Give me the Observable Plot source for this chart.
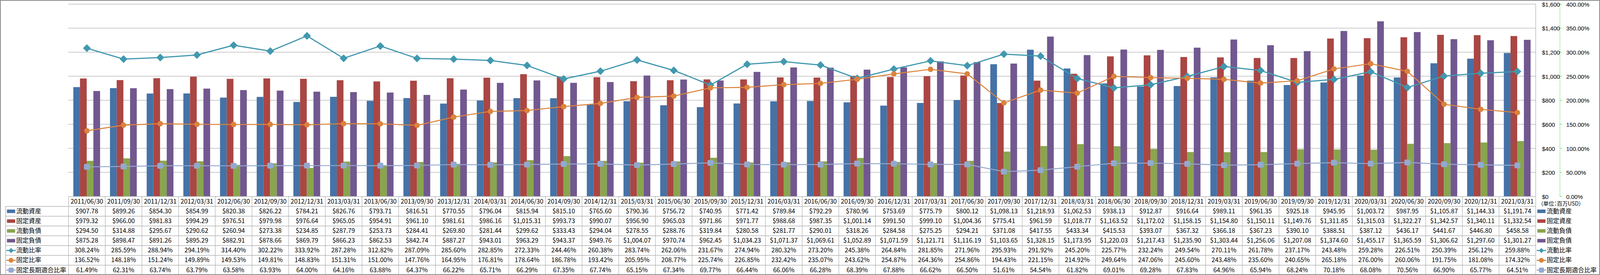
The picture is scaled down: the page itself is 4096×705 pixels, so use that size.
<!DOCTYPE html>
<html><head><meta charset="utf-8">
<script src="https://cdn.jsdelivr.net/npm/d3@7"></script>
<script src="https://cdn.jsdelivr.net/npm/@observablehq/plot@0.6"></script>
<style>
html,body{margin:0;padding:0;background:#fff;}
#wrap{position:relative;width:4096px;height:705px;overflow:hidden;background:#fff;}
#wrap svg{position:absolute;left:0;}
#frame{position:absolute;left:0;top:0;width:4096px;height:705px;box-sizing:border-box;border:2px solid #8a8a8a;pointer-events:none;}
</style></head>
<body><div id="wrap"><div id="frame"></div></div>
<script>
// ---------- data ----------
const dates = ["2011/06/30","2011/09/30","2011/12/31","2012/03/31","2012/06/30","2012/09/30","2012/12/31","2013/03/31","2013/06/30","2013/09/30","2013/12/31","2014/03/31","2014/06/30","2014/09/30","2014/12/31","2015/03/31","2015/06/30","2015/09/30","2015/12/31","2016/03/31","2016/06/30","2016/09/30","2016/12/31","2017/03/31","2017/06/30","2017/09/30","2017/12/31","2018/03/31","2018/06/30","2018/09/30","2018/12/31","2019/03/31","2019/06/30","2019/09/30","2019/12/31","2020/03/31","2020/06/30","2020/09/30","2020/12/31","2021/03/31"];
const currentAssets = [907.78,899.26,854.30,854.99,820.38,826.22,784.21,826.76,793.71,816.51,770.55,796.04,815.94,815.10,765.60,790.36,756.72,740.95,771.42,789.84,792.29,780.96,753.69,775.79,800.12,1098.13,1218.93,1062.53,938.13,912.87,916.64,989.11,961.35,925.18,945.95,1003.72,987.95,1105.87,1144.33,1191.74];
const fixedAssets = [979.32,966.00,981.83,994.29,976.51,979.98,976.64,965.05,954.91,961.10,981.61,986.16,1015.31,993.73,990.07,956.90,965.03,971.86,971.77,988.68,987.35,1001.14,991.50,999.10,1004.36,775.41,961.59,1018.77,1163.52,1172.02,1158.15,1154.80,1150.11,1149.76,1311.85,1315.03,1322.27,1342.57,1340.11,1332.54];
const currentLiabilities = [294.50,314.88,295.67,290.62,260.94,273.38,234.85,287.79,253.73,284.41,269.80,281.44,299.62,333.43,294.04,278.55,288.76,319.84,280.58,281.77,290.01,318.26,284.58,275.25,294.21,371.08,417.55,433.34,415.53,393.07,367.32,366.18,367.23,390.10,388.51,387.12,436.17,441.67,446.80,458.58];
const fixedLiabilities = [875.28,898.47,891.26,895.29,882.91,878.66,869.79,866.23,862.53,842.74,887.27,943.01,963.29,943.37,949.76,1004.07,970.74,962.45,1034.23,1071.37,1069.61,1052.89,1071.59,1121.71,1116.19,1103.65,1328.15,1173.95,1220.03,1217.43,1235.90,1303.44,1256.06,1207.08,1374.60,1455.17,1365.59,1306.62,1297.60,1301.27];
const currentRatio = [308.24,285.59,288.94,294.19,314.40,302.22,333.92,287.28,312.82,287.09,285.60,282.85,272.33,244.46,260.38,283.74,262.06,231.67,274.94,280.32,273.20,245.38,264.84,281.85,271.96,295.93,291.92,245.20,225.77,232.24,249.54,270.11,261.78,237.17,243.48,259.28,226.51,250.39,256.12,259.88];
const fixedRatio = [136.52,148.18,151.24,149.89,149.53,149.81,148.83,151.31,151.00,147.76,164.95,176.81,178.64,186.78,193.42,205.95,208.77,225.74,226.85,232.42,235.07,243.62,254.87,264.36,254.86,194.43,221.15,214.92,249.64,247.06,245.60,243.48,235.60,240.65,265.18,276.00,260.06,191.75,181.08,174.32];
const fixedLongTermRatio = [61.49,62.31,63.74,63.79,63.58,63.93,64.00,64.16,63.88,64.37,66.22,65.71,66.29,67.35,67.74,65.15,67.34,69.77,66.44,66.06,66.28,68.39,67.88,66.62,66.50,51.61,54.54,61.82,69.01,69.28,67.83,64.96,65.94,68.24,70.18,68.08,70.56,66.90,65.77,64.51];
const barNames = ["流動資産","固定資産","流動負債","固定負債"];
const lineNames = ["流動比率","固定比率","固定長期適合比率"];
const moneyTicks = [0,200,400,600,800,1000,1200,1400,1600];
const unitLabel = "（単位：百万USD）";

// ---------- styles ----------
const barColors = ["#4572A7","#AA4643","#89A54E","#71588F"];
const lineColors = ["#4198AF","#DB843D","#93A9CF"];
const FONT = "'Noto Sans CJK JP', 'Noto Sans', sans-serif";
const AXISFONT = "'Liberation Sans', 'DejaVu Sans', sans-serif";
const W = 4096, mL = 175, mR = W - 3931;
const n = dates.length;
const groupW = 0.73, barW = groupW / 4;
const pctToMoney = 1600 / 400; // 400% <-> $1,600 share gridlines

// custom symbols
const diamond = s => ctx => {ctx.moveTo(0,-s/2);ctx.lineTo(s/2,0);ctx.lineTo(0,s/2);ctx.lineTo(-s/2,0);ctx.closePath();};
const circle = s => ctx => {ctx.moveTo(s/2,0);ctx.arc(0,0,s/2,0,2*Math.PI);ctx.closePath();};
const rsquare = s => ctx => {const h=s/2,r=s*0.2;ctx.moveTo(-h+r,-h);ctx.lineTo(h-r,-h);ctx.arcTo(h,-h,h,-h+r,r);ctx.lineTo(h,h-r);ctx.arcTo(h,h,h-r,h,r);ctx.lineTo(-h+r,h);ctx.arcTo(-h,h,-h,h-r,r);ctx.lineTo(-h,-h+r);ctx.arcTo(-h,-h,-h+r,-h,r);ctx.closePath();};
const sym = f => ({draw(ctx){ f(ctx); }});
const markerShapes = [diamond(20), circle(14), rsquare(15)];
const keyMarkers = [diamond(13), circle(12.5), rsquare(13)];
const rectKey = sym(ctx => ctx.rect(-10.5,-4.5,21,9));
const lineKey = k => sym(ctx => {ctx.rect(-12,-1.4,24,2.8); keyMarkers[k](ctx);});
const tickSym = sym(ctx => ctx.rect(0,-0.5,5,1));

// ---------- chart ----------
const chartMarks = [];
chartMarks.push(Plot.ruleY(moneyTicks.filter(t => t > 0), {stroke:"#9a9a9a", strokeWidth:1}));
chartMarks.push(Plot.ruleX([n - 0.5], {y1:0, y2:1600, stroke:"#9a9a9a", strokeWidth:1}));
[currentAssets, fixedAssets, currentLiabilities, fixedLiabilities].forEach((vals, k) => {
  chartMarks.push(Plot.rect(vals, {
    x1: (d,i) => i - groupW/2 + k*barW,
    x2: (d,i) => i - groupW/2 + (k+1)*barW,
    y1: 0, y2: d => d, fill: barColors[k]
  }));
});
const lineWidths = [3, 2.6, 2.4];
[currentRatio, fixedRatio, fixedLongTermRatio].forEach((vals, k) => {
  chartMarks.push(Plot.line(vals, {x:(d,i)=>i, y:d=>d*pctToMoney, stroke:lineColors[k], strokeWidth:lineWidths[k]}));
  chartMarks.push(Plot.dot(vals, {x:(d,i)=>i, y:d=>d*pctToMoney, symbol: sym(markerShapes[k]), fill:lineColors[k], stroke:"none"}));
});
// right axes
chartMarks.push(Plot.text(moneyTicks, {y:d=>d, frameAnchor:"right", dx:16, dy:1.5, textAnchor:"start", text:d=>d3.format("$,")(d), fontSize:15, fontFamily:AXISFONT, fill:"#000"}));
chartMarks.push(Plot.text(moneyTicks, {y:d=>d, frameAnchor:"right", dx:78, dy:1.5, textAnchor:"start", text:d=>d3.format(".2f")(d/pctToMoney)+"%", fontSize:15, fontFamily:AXISFONT, fill:"#000"}));
chartMarks.push(Plot.ruleX([n - 0.5], {y1:0, y2:1600, dx:62, stroke:"#22cc22", strokeWidth:1, strokeDasharray:"3,2"}));
chartMarks.push(Plot.dot(moneyTicks, {y:d=>d, frameAnchor:"right", dx:62, symbol:tickSym, fill:"#22cc22", stroke:"none"}));

const chart = Plot.plot({
  width: W, height: 515,
  marginLeft: mL, marginRight: mR, marginTop: 10, marginBottom: 12,
  x: {type:"linear", domain:[-0.5, n - 0.5], axis:null},
  y: {domain:[0,1600], axis:null},
  style: {fontFamily: FONT, background:"none", overflow:"visible"},
  marks: chartMarks
});
chart.style.top = "0px";

// ---------- data table ----------
const colPx = (W - mR - mL) / n;
const labelEdge = -0.5 - (mL - 14) / colPx;   // left edge of the label column, in column units
const rowsData = [currentAssets, fixedAssets, currentLiabilities, fixedLiabilities, currentRatio, fixedRatio, fixedLongTermRatio];
const allNames = barNames.concat(lineNames);
const money = d3.format("$,.2f");
const tMarks = [];
tMarks.push(Plot.ruleY([0], {x1:-0.5, x2:n - 0.5, stroke:"#8f8f8f"}));
tMarks.push(Plot.ruleY(d3.range(1, 9), {y:d=>d, x1:labelEdge, x2:n - 0.5, stroke:"#8f8f8f"}));
tMarks.push(Plot.ruleX(d3.range(n + 1), {x:d=>d - 0.5, y1:0, y2:8, stroke:"#a0a0a0"}));
tMarks.push(Plot.ruleX([labelEdge], {y1:1, y2:8, stroke:"#8f8f8f"}));
tMarks.push(Plot.text(dates, {x:(d,i)=>i, y:0.5, text:d=>d, fontSize:16, fill:"#000"}));
rowsData.forEach((vals, r) => {
  tMarks.push(Plot.text(vals, {x:(d,i)=>i, y:r + 1.5, text: d => r < 4 ? money(d) : d.toFixed(2) + "%", fontSize:16, fill:"#000"}));
});
allNames.forEach((name, r) => {
  const key = r < 4 ? rectKey : lineKey(r - 4);
  const col = r < 4 ? barColors[r] : lineColors[r - 4];
  // left label column
  tMarks.push(Plot.dot([name], {x:labelEdge, y:r + 1.5, dx:13.8, symbol:key, fill:col, stroke:"none"}));
  tMarks.push(Plot.text([name], {x:labelEdge, y:r + 1.5, dx:27, textAnchor:"start", text:d=>d, fontSize:16, fill:"#000"}));
  // right legend
  tMarks.push(Plot.dot([name], {frameAnchor:"right", y:r + 1.5, dx:14.5, symbol:key, fill:col, stroke:"none"}));
  tMarks.push(Plot.text([name], {frameAnchor:"right", y:r + 1.5, dx:28, textAnchor:"start", text:d=>d, fontSize:16, fill:"#000"}));
});
tMarks.push(Plot.text([unitLabel], {frameAnchor:"right", y:0.5, dx:12, dy:6, textAnchor:"start", text:d=>d, fontSize:14, fill:"#000"}));

const table = Plot.plot({
  width: W, height: 202,
  marginLeft: mL, marginRight: mR, marginTop: 0, marginBottom: 0,
  x: {type:"linear", domain:[-0.5, n - 0.5], axis:null},
  y: {domain:[0, 8], range:[0.5, 201.5], axis:null},
  style: {fontFamily: FONT, background:"none", overflow:"visible"},
  marks: tMarks
});
table.style.top = "503px";
d3.select(table).selectAll("text").filter(function(){ return this.textContent.includes("単位"); })
  .style("font-feature-settings", "'palt'");

const wrap = document.getElementById("wrap");
wrap.insertBefore(table, wrap.firstChild);
wrap.insertBefore(chart, wrap.firstChild);
</script>
</body></html>
